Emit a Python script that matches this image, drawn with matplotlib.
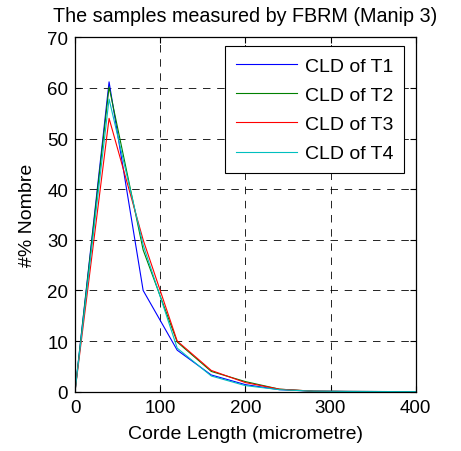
import matplotlib
matplotlib.use('Agg')
import matplotlib.pyplot as plt

plt.rcParams['font.family'] = ['Liberation Sans', 'DejaVu Sans']

corde = [0, 40, 80, 120, 160, 200, 240, 280, 320, 360, 400]
t1 = [0, 61.2, 20.0, 8.2, 3.3, 1.4, 0.4, 0.1, 0.05, 0.03, 0.02]
t2 = [0, 60.2, 28.0, 9.8, 4.0, 2.0, 0.5, 0.1, 0.05, 0.03, 0.02]
t3 = [0, 54.0, 30.0, 10.0, 4.2, 1.8, 0.5, 0.1, 0.05, 0.03, 0.02]
t4 = [0, 57.8, 29.0, 8.6, 3.1, 1.2, 0.4, 0.1, 0.05, 0.03, 0.02]
labels = ['CLD of T1', 'CLD of T2', 'CLD of T3', 'CLD of T4']
colors = ['#0000ff', '#008000', '#ff0000', '#00bfbf']

W, H = 461, 452
fig = plt.figure(figsize=(W / 100, H / 100), dpi=100)
# axes box in pixels: left 75, right 415.7, top 38.3, bottom 392.7
ax = fig.add_axes([75 / W, (H - 392.7) / H, 340.7 / W, 354.4 / H])

for ys, lab, c in zip([t1, t2, t3, t4], labels, colors):
    ax.plot(corde, ys, color=c, linewidth=0.8, label=lab)

ax.set_xlim(0, 400)
ax.set_ylim(0, 70)
ax.set_xticks([0, 100, 200, 300, 400])
ax.set_yticks(range(0, 71, 10))
ax.grid(True, color='black', linestyle=(0, (9, 8)), linewidth=0.6)
ax.tick_params(direction='in', top=True, right=True, labelsize=13.5, length=4, pad=5)
for s in ax.spines.values():
    s.set_linewidth(0.9)

ax.set_title('The samples measured by FBRM (Manip 3)', fontsize=14.2, pad=12)
ax.set_xlabel('Corde Length (micrometre)', fontsize=14, labelpad=7)
ax.set_ylabel('#% Nombre', fontsize=14, labelpad=8)

# legend box: right edge 404, top edge 47.3 px
leg = ax.legend(loc='upper right', bbox_to_anchor=((404 - 75) / 340.7, (392.7 - 47.3) / 354.4),
                borderaxespad=0, fontsize=14, fancybox=False, framealpha=1,
                edgecolor='black', handlelength=3.15, handletextpad=0.4,
                labelspacing=0.6, borderpad=0.55)
leg.get_frame().set_linewidth(0.8)

fig.savefig('out.png', dpi=100)
